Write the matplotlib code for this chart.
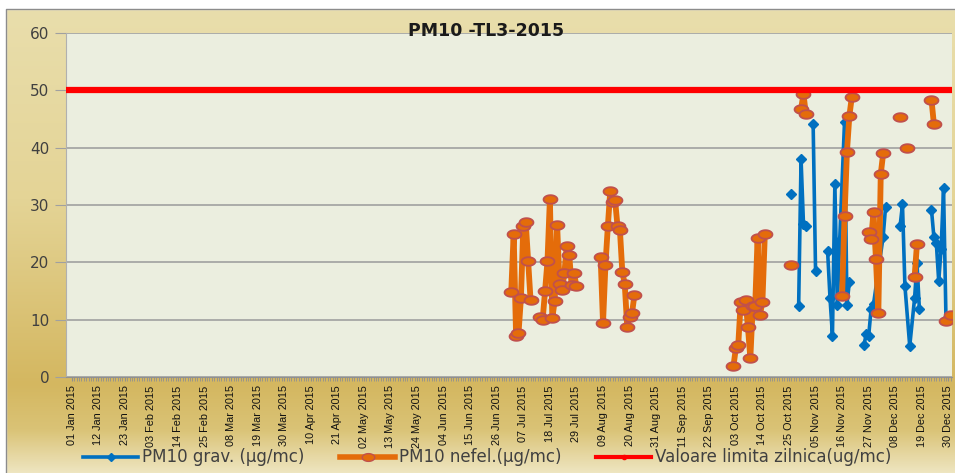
import numpy as np
import pandas as pd
import matplotlib
matplotlib.use("Agg")
import matplotlib.pyplot as plt
import matplotlib.dates as mdates
from matplotlib.path import Path
from matplotlib.lines import Line2D
from matplotlib.patches import Rectangle

# ---------------- data ----------------
title = "PM10 -TL3-2015"
year = 2015
limit_value = 50

# None marks a break in the line
orange_dates = ["07-02", "07-03", "07-04", "07-05", "07-06", "07-07", "07-08", "07-09", "07-10", None,
                "07-14", "07-15", "07-16", "07-17", "07-18", "07-19", "07-20", "07-21", "07-22", "07-23",
                "07-24", "07-25", "07-26", "07-27", "07-28", "07-29", None,
                "08-08", "08-09", "08-10", "08-11", "08-12", "08-13", "08-14", "08-15", "08-16", "08-17",
                "08-18", "08-19", "08-20", "08-21", "08-22", None,
                "10-02", "10-03", "10-04", "10-05", "10-06", "10-07", "10-08", "10-09", "10-10", "10-11",
                "10-12", "10-13", "10-14", "10-15", None,
                "10-26", None,
                "10-30", "10-31", "11-01", None,
                "11-16", "11-17", "11-18", "11-19", "11-20", None,
                "11-27", "11-28", "11-29", "11-30", "12-01", "12-02", "12-03", None,
                "12-10", None,
                "12-13", None,
                "12-16", "12-17", None,
                "12-23", "12-24", None,
                "12-29", None,
                "12-31"]
orange_vals = [14.9, 25.0, 7.2, 7.6, 13.7, 26.3, 27.0, 20.2, 13.4, None,
               10.4, 10.0, 15.0, 20.2, 31.0, 10.3, 13.3, 26.5, 16.2, 15.1,
               18.1, 22.9, 21.3, 16.0, 18.1, 15.8, None,
               21.0, 9.4, 19.5, 26.3, 32.5, 30.6, 30.8, 26.3, 25.6, 18.3,
               16.2, 8.8, 10.5, 11.1, 14.3, None,
               1.9, 5.0, 5.6, 13.0, 11.6, 13.5, 8.7, 3.3, 12.4, 12.4,
               24.2, 10.9, 13.1, 24.9, None,
               19.5, None,
               46.7, 49.4, 45.8, None,
               14.1, 28.0, 39.3, 45.5, 48.8, None,
               25.3, 24.0, 28.7, 20.6, 11.2, 35.4, 39.0, None,
               45.4, None,
               39.9, None,
               17.4, 23.2, None,
               48.4, 44.1, None,
               9.8, None,
               10.9]

blue_dates = ["10-26", None,
              "10-29", "10-30", "10-31", "11-01", None,
              "11-04", "11-05", None,
              "11-10", "11-11", "11-12", "11-13", "11-14", "11-15", "11-17", "11-18", "11-19", None,
              "11-25", "11-26", "11-27", "11-28", "11-29", "12-03", "12-04", None,
              "12-10", "12-11", "12-12", "12-14", "12-16", "12-17", "12-18", None,
              "12-23", "12-24", "12-25", "12-26", "12-27", "12-28", "12-29"]
blue_vals = [32.0, None,
             12.3, 38.0, 26.7, 26.3, None,
             44.2, 18.5, None,
             21.9, 13.7, 7.2, 33.7, 12.6, 23.9, 44.5, 12.6, 16.6, None,
             5.5, 7.5, 7.2, 11.8, 12.7, 24.5, 29.7, None,
             26.3, 30.1, 15.9, 5.4, 13.7, 19.9, 11.8, None,
             29.2, 24.4, 23.4, 16.7, 22.4, 32.9, 10.2]

series_labels = ["PM10 grav. (µg/mc)", "PM10 nefel.(µg/mc)", "Valoare limita zilnica(ug/mc)"]
y_ticks = [0, 10, 20, 30, 40, 50, 60]

# ---------------- style ----------------
W, H = 955, 473
BLUE = "#0070C0"
ORANGE = "#E46C0A"
ORANGE_EDGE = "#C0504D"
RED = "#FF0000"

t = np.linspace(0, 2 * np.pi, 48)
ellipse = Path(np.column_stack([np.cos(t), 0.62 * np.sin(t)]), closed=True)

fig = plt.figure(figsize=(W / 100, H / 100), dpi=100)

# background gradient (gold frame)
bg = fig.add_axes([0, 0, 1, 1], zorder=-10)
bg.set_axis_off()
stops_y = np.array([0, 9, 200, 385, 430, 473]) / H
cols = np.array([[233, 222, 172], [233, 222, 172], [228, 212, 150],
                 [212, 183, 96], [218, 195, 118], [238, 229, 192]]) / 255
yy = np.linspace(0, 1, 400)
grad = np.stack([np.interp(yy, stops_y, cols[:, i]) for i in range(3)], axis=-1)
grad = np.repeat(grad[:, None, :], 10, axis=1)
bg.imshow(grad, aspect="auto", extent=[0, 1, 1, 0], origin="upper")
bg.set_xlim(0, 1)
bg.set_ylim(1, 0)
bg.add_patch(Rectangle((0, 0), 1, 9 / H, color="white"))
bg.add_patch(Rectangle((0, 0), 6 / W, 1, color="white"))
bg.plot([6 / W, 6 / W, 1], [1, 9 / H, 9 / H], color="#8C8C8C", lw=1)

ax = fig.add_axes([66 / W, 1 - 377 / H, (952 - 66) / W, (377 - 33) / H])
ax.set_facecolor("#EBEEDF")


def to_num(d):
    return mdates.date2num(pd.Timestamp(f"{year}-{d}"))


def segments(dates, vals):
    segs, cur = [], []
    for d, v in zip(dates, vals):
        if d is None or v is None:
            if cur:
                segs.append(cur)
            cur = []
        else:
            cur.append((to_num(d), v))
    if cur:
        segs.append(cur)
    return segs


for seg in segments(blue_dates, blue_vals):
    xs, ys = zip(*seg)
    ax.plot(xs, ys, color=BLUE, lw=2.6, marker="D", ms=5, mfc=BLUE, mec=BLUE, zorder=3)

for seg in segments(orange_dates, orange_vals):
    xs, ys = zip(*seg)
    ax.plot(xs, ys, color=ORANGE, lw=4.2, marker=ellipse, ms=10, mfc=ORANGE, mec=ORANGE_EDGE,
            mew=1.3, zorder=4)

ax.axhline(limit_value, color=RED, lw=4.5, zorder=5)

x0 = mdates.date2num(pd.Timestamp(f"{year}-01-01"))
ax.set_xlim(x0 - 2.36, x0 + 364.5)
ax.set_ylim(0, 60)

ax.set_yticks(y_ticks)
ax.set_yticklabels([str(v) for v in y_ticks], fontsize=11, color="#404040", family="DejaVu Sans")
ax.yaxis.grid(True, color="#A0A0A0", lw=1.2)
ax.set_axisbelow(True)

majors = pd.date_range(f"{year}-01-01", f"{year}-12-31", freq="11D")
all_days = pd.date_range(f"{year}-01-01", f"{year}-12-31", freq="D")
ax.set_xticks(mdates.date2num(majors))
ax.set_xticklabels([d.strftime("%d %b %Y") for d in majors], rotation=90, color="#111111",
                   family="Liberation Sans", fontsize=9)
ax.set_xticks(mdates.date2num(all_days), minor=True)
ax.tick_params(axis="x", which="both", length=3, color="#909090", pad=3)
ax.tick_params(axis="y", length=8, color="#A0A0A0", pad=4)

# fit the rotated date labels to the reference length (~63 px)
fig.canvas.draw()
r = fig.canvas.get_renderer()
h = max(lab.get_window_extent(r).height for lab in ax.get_xticklabels())
for lab in ax.get_xticklabels():
    lab.set_fontsize(9 * 63.0 / h)

for s in ["top", "right"]:
    ax.spines[s].set_visible(False)
ax.spines["left"].set_color("#B0B0B0")
ax.spines["bottom"].set_color("#909090")

fig.text(486 / W, 1 - 31 / H, title, ha="center", va="center", fontsize=12.5,
         fontweight="bold", family="DejaVu Sans", color="#1a1a1a")

# legend drawn manually at the bottom
leg_y = 1 - 457 / H
entries = [(83, BLUE, "D", 4.5, BLUE, BLUE, 2.6),
           (340, ORANGE, ellipse, 9, ORANGE, ORANGE_EDGE, 4),
           (596, RED, "o", 3, RED, RED, 3)]
for (lx, col, mk, ms, mfc, mec, lw), lab in zip(entries, series_labels):
    fig.add_artist(Line2D([lx / W, (lx + 55) / W], [leg_y, leg_y], color=col, lw=lw,
                          transform=fig.transFigure))
    fig.add_artist(Line2D([(lx + 27.5) / W], [leg_y], marker=mk, ms=ms, mfc=mfc, mec=mec,
                          transform=fig.transFigure, lw=0))
    fig.text((lx + 59) / W, leg_y, lab, ha="left", va="center", fontsize=12,
             family="DejaVu Sans", color="#404040")

fig.savefig("out.png", dpi=100)
